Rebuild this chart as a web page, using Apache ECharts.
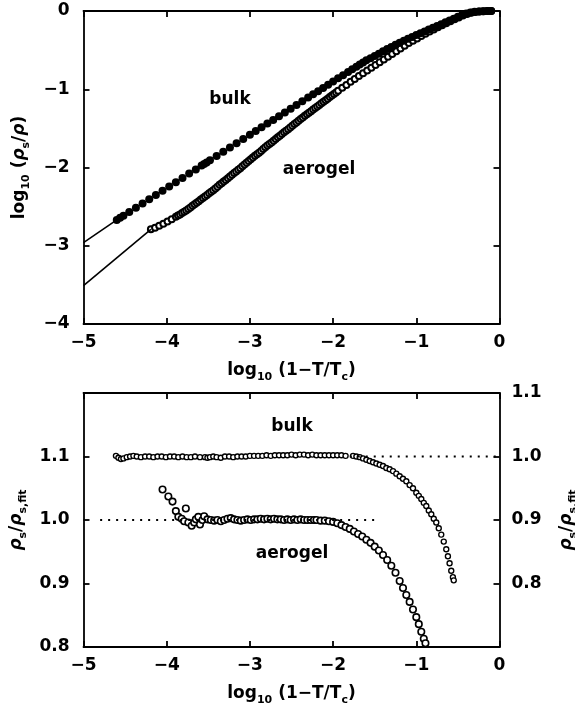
<!DOCTYPE html>
<html><head><meta charset="utf-8">
<script src="https://cdn.jsdelivr.net/npm/echarts@6/dist/echarts.min.js"></script>
<style>html,body{margin:0;padding:0;background:#fff}#c{width:575px;height:706px}</style>
</head><body><div id="c"></div>
<script>
// ---------- data ----------
// top panel: log10(rho_s/rho) vs log10(1-T/Tc)
const topBulk = [[-4.60,-2.670],[-4.56,-2.643],[-4.52,-2.616],[-4.45,-2.568],[-4.37,-2.514],[-4.29,-2.459],[-4.21,-2.405],[-4.13,-2.350],[-4.05,-2.296],[-3.97,-2.242],[-3.89,-2.187],[-3.81,-2.133],[-3.73,-2.078],[-3.65,-2.024],[-3.58,-1.976],[-3.55,-1.956],[-3.52,-1.936],[-3.48,-1.908],[-3.40,-1.854],[-3.32,-1.800],[-3.24,-1.745],[-3.16,-1.691],[-3.08,-1.636],[-3.00,-1.582],[-2.93,-1.534],[-2.86,-1.487],[-2.79,-1.439],[-2.72,-1.392],[-2.65,-1.344],[-2.58,-1.296],[-2.51,-1.249],[-2.44,-1.201],[-2.37,-1.154],[-2.30,-1.106],[-2.24,-1.065],[-2.18,-1.024],[-2.12,-0.984],[-2.06,-0.943],[-2.00,-0.902],[-1.94,-0.861],[-1.88,-0.820],[-1.82,-0.780],[-1.77,-0.746],[-1.72,-0.712],[-1.68,-0.684],[-1.64,-0.657],[-1.60,-0.630],[-1.55,-0.605],[-1.50,-0.575],[-1.45,-0.545],[-1.40,-0.515],[-1.35,-0.487],[-1.30,-0.459],[-1.25,-0.432],[-1.20,-0.405],[-1.15,-0.380],[-1.10,-0.355],[-1.05,-0.331],[-1.00,-0.308],[-0.95,-0.285],[-0.90,-0.262],[-0.85,-0.238],[-0.80,-0.214],[-0.75,-0.191],[-0.70,-0.168],[-0.65,-0.145],[-0.60,-0.122],[-0.55,-0.098],[-0.50,-0.072],[-0.45,-0.050],[-0.40,-0.032],[-0.35,-0.019],[-0.30,-0.010],[-0.25,-0.005],[-0.20,-0.002],[-0.15,0.000],[-0.10,0.000]];
const topAerogel = [[-4.19,-2.79],[-4.14,-2.77],[-4.09,-2.745],[-4.04,-2.72],[-3.99,-2.69],[-3.94,-2.66],
 [-3.89,-2.63],[-3.865,-2.615],[-3.84,-2.60],[-3.815,-2.583],[-3.79,-2.565],[-3.765,-2.548],[-3.74,-2.53],[-3.715,-2.51],[-3.69,-2.49],[-3.665,-2.47],[-3.64,-2.45],[-3.615,-2.43],[-3.59,-2.41],[-3.565,-2.39],[-3.54,-2.37],[-3.515,-2.35],[-3.49,-2.33],[-3.465,-2.31],[-3.44,-2.29],[-3.415,-2.268],[-3.39,-2.245],[-3.365,-2.222],[-3.34,-2.20],[-3.315,-2.18],[-3.29,-2.16],[-3.265,-2.138],[-3.24,-2.115],[-3.215,-2.092],[-3.19,-2.07],[-3.165,-2.05],[-3.14,-2.03],[-3.115,-2.008],[-3.09,-1.985],[-3.065,-1.962],[-3.04,-1.94],[-3.015,-1.918],[-2.99,-1.895],[-2.965,-1.872],[-2.94,-1.85],[-2.915,-1.83],[-2.89,-1.81],[-2.865,-1.788],[-2.84,-1.765],[-2.815,-1.742],[-2.79,-1.72],[-2.765,-1.70],[-2.74,-1.68],[-2.715,-1.658],[-2.69,-1.635],[-2.665,-1.615],[-2.64,-1.595],[-2.615,-1.572],[-2.59,-1.55],[-2.565,-1.53],[-2.54,-1.51],[-2.515,-1.488],[-2.49,-1.465],[-2.465,-1.445],[-2.44,-1.425],[-2.415,-1.402],[-2.39,-1.38],[-2.365,-1.36],[-2.34,-1.34],[-2.315,-1.32],[-2.29,-1.30],[-2.265,-1.28],[-2.24,-1.26],[-2.215,-1.24],[-2.19,-1.22],[-2.165,-1.20],[-2.14,-1.18],[-2.115,-1.16],[-2.09,-1.14],[-2.065,-1.12],[-2.04,-1.10],[-2.015,-1.08],[-1.99,-1.06],[-1.965,-1.04],[-1.94,-1.02],
 [-1.89,-0.98],[-1.84,-0.945],[-1.79,-0.905],[-1.74,-0.87],[-1.69,-0.83],[-1.64,-0.795],[-1.59,-0.76],[-1.54,-0.725],[-1.49,-0.69],[-1.44,-0.655],[-1.39,-0.62],[-1.34,-0.585],[-1.29,-0.55],[-1.24,-0.515],[-1.19,-0.48],[-1.14,-0.445],[-1.09,-0.41],[-1.04,-0.38],[-0.99,-0.35],[-0.94,-0.32],[-0.89,-0.29],[-0.84,-0.262],[-0.79,-0.235],[-0.74,-0.208],[-0.69,-0.182],[-0.64,-0.157],[-0.59,-0.132],[-0.54,-0.107],[-0.49,-0.082],[-0.44,-0.058],[-0.39,-0.038],[-0.34,-0.022],[-0.29,-0.012],[-0.24,-0.006],[-0.19,-0.002],[-0.14,0.0],[-0.10,0.0]];
const topBulkFit = [[-5,-2.96],[-4.60,-2.670]];
const topAerogelFit = [[-5,-3.51],[-4.19,-2.79]];

// bottom panel: rho_s / rho_s,fit  (bulk on right axis, aerogel on left axis)
const botBulk = [[-4.61,1.001],[-4.58,0.998],[-4.55,0.996],[-4.52,0.997],[-4.48,0.999],[-4.44,1.000],[-4.40,1.001],[-4.36,1.000],[-4.31,0.999],[-4.26,1.000],[-4.21,1.000],[-4.16,0.999],[-4.11,1.000],[-4.06,1.000],[-4.01,0.999],[-3.96,1.000],[-3.91,1.000],[-3.86,0.999],[-3.81,1.000],[-3.76,0.999],[-3.71,0.999],[-3.66,1.000],[-3.60,0.999],[-3.54,0.999],[-3.51,0.998],[-3.48,0.999],[-3.44,1.000],[-3.40,0.999],[-3.35,0.998],[-3.30,1.000],[-3.25,1.000],[-3.20,0.999],[-3.15,1.000],[-3.10,1.000],[-3.05,1.000],[-3.00,1.001],[-2.95,1.001],[-2.90,1.001],[-2.85,1.001],[-2.80,1.002],[-2.75,1.001],[-2.70,1.002],[-2.65,1.002],[-2.60,1.002],[-2.55,1.002],[-2.50,1.003],[-2.45,1.002],[-2.40,1.003],[-2.35,1.003],[-2.30,1.002],[-2.25,1.003],[-2.20,1.002],[-2.15,1.002],[-2.10,1.002],[-2.05,1.002],[-2.00,1.002],[-1.95,1.002],[-1.90,1.002],[-1.85,1.001],[-1.76,1.001],[-1.72,1.000],[-1.68,0.999],[-1.64,0.997],[-1.60,0.995],[-1.56,0.993],[-1.52,0.991],[-1.48,0.989],[-1.44,0.987],[-1.40,0.985],[-1.36,0.982],[-1.32,0.980],[-1.28,0.977],[-1.24,0.973],[-1.20,0.969],[-1.16,0.965],[-1.12,0.961],[-1.08,0.955],[-1.04,0.950],[-1.00,0.943],[-0.97,0.938],[-0.94,0.933],[-0.91,0.927],[-0.88,0.922],[-0.85,0.915],[-0.82,0.909],[-0.79,0.902],[-0.76,0.896],[-0.73,0.887],[-0.70,0.877],[-0.67,0.866],[-0.64,0.854],[-0.62,0.843],[-0.60,0.832],[-0.58,0.820],[-0.56,0.810],[-0.55,0.805]];
const botAerogel = [[-4.05,1.048],[-3.98,1.037],[-3.93,1.029],[-3.89,1.014],[-3.86,1.005],[-3.82,1.002],[-3.77,1.018],[-3.79,0.998],[-3.74,0.996],[-3.70,0.991],[-3.67,0.996],[-3.65,1.001],[-3.62,1.005],[-3.60,0.993],[-3.57,1.000],[-3.55,1.006],[-3.51,1.001],[-3.47,1.000],[-3.43,0.999],[-3.39,1.000],[-3.35,0.998],[-3.31,1.000],[-3.27,1.002],[-3.23,1.003],[-3.19,1.001],[-3.15,1.000],[-3.11,0.999],[-3.07,1.000],[-3.03,1.001],[-2.99,1.000],[-2.95,1.001],[-2.91,1.001],[-2.87,1.002],[-2.83,1.001],[-2.79,1.002],[-2.75,1.001],[-2.71,1.002],[-2.67,1.001],[-2.63,1.001],[-2.59,1.000],[-2.55,1.001],[-2.51,1.000],[-2.47,1.001],[-2.43,1.000],[-2.39,1.001],[-2.35,1.000],[-2.31,1.000],[-2.27,1.000],[-2.23,1.000],[-2.20,1.000],[-2.15,0.999],[-2.10,0.999],[-2.05,0.998],[-2.00,0.997],[-1.95,0.995],[-1.90,0.992],[-1.85,0.989],[-1.80,0.986],[-1.75,0.982],[-1.70,0.978],[-1.65,0.974],[-1.60,0.969],[-1.55,0.964],[-1.50,0.958],[-1.45,0.952],[-1.40,0.945],[-1.35,0.937],[-1.30,0.928],[-1.25,0.917],[-1.20,0.904],[-1.16,0.893],[-1.12,0.882],[-1.08,0.871],[-1.04,0.859],[-1.00,0.847],[-0.97,0.836],[-0.94,0.824],[-0.91,0.813],[-0.89,0.806]];
const botBulkRef = [[-1.80,1.0],[0,1.0]];
const botAerogelRef = [[-4.80,1.0],[-1.50,1.0]];

const xRange = [-5, 0];
const topYRange = [-4, 0];
const botLeftRange = [0.8, 1.2];
const botRightRange = [0.7, 1.1];

// ---------- styling ----------
const FONT = 'DejaVu Sans';
const K = '#000';
const FS = 17;
const rich = {
  a: {fontFamily: FONT, fontSize: FS, fontWeight: 'bold', color: K, lineHeight: 24},
  b: {fontFamily: FONT, fontSize: 11, fontWeight: 'bold', color: K, lineHeight: 12, verticalAlign: 'bottom'},
  r: {fontFamily: FONT, fontSize: FS, fontWeight: 'bold', fontStyle: 'italic', color: K, lineHeight: 24}
};
const xName = '{a|log}{b|10}{a| (1\u2212T/T}{b|c}{a|)}';
const minus = v => String(v).replace('-', '\u2212');
const line = {onZero: false, lineStyle: {color: K, width: 1.8}};
const tick = {inside: true, length: 6, lineStyle: {color: K, width: 1.8}};
const lab = (m, f) => ({color: K, fontFamily: FONT, fontSize: FS, fontWeight: 'bold', margin: m, formatter: f});

function xa(grid, pos, show) {
  return {type: 'value', gridIndex: grid, position: pos, min: xRange[0], max: xRange[1], interval: 1,
    axisLine: line, axisTick: tick, splitLine: {show: false},
    axisLabel: show ? lab(10, minus) : {show: false},
    name: show ? xName : '', nameLocation: 'middle', nameGap: 35, nameTextStyle: {rich: rich}};
}

const chart = echarts.init(document.getElementById('c'), null, {renderer: 'canvas'});
chart.setOption({
  animation: false,
  backgroundColor: '#fff',
  grid: [
    {left: 83.5, top: 11, width: 416, height: 313, containLabel: false, outerBoundsMode: 'none'},
    {left: 83.5, top: 393, width: 416, height: 254, containLabel: false, outerBoundsMode: 'none'}
  ],
  xAxis: [xa(0, 'bottom', true), xa(0, 'top', false), xa(1, 'bottom', true), xa(1, 'top', false)],
  yAxis: [
    {type: 'value', gridIndex: 0, position: 'left', min: topYRange[0], max: topYRange[1], interval: 1,
      axisLine: line, axisTick: tick, splitLine: {show: false}, axisLabel: lab(14, minus),
      name: '{a|log}{b|10}{a| (}{r|\u03c1}{b|s}{a|/}{r|\u03c1}{a|)}', nameLocation: 'middle', nameRotate: 90, nameGap: 52,
      nameTextStyle: {rich: rich}},
    {type: 'value', gridIndex: 0, position: 'right', min: topYRange[0], max: topYRange[1], interval: 1,
      axisLine: line, axisTick: tick, splitLine: {show: false}, axisLabel: {show: false}},
    {type: 'value', gridIndex: 1, position: 'left', min: botLeftRange[0], max: botLeftRange[1], interval: 0.1,
      axisLine: line, axisTick: tick, splitLine: {show: false},
      axisLabel: lab(14, v => Math.abs(v - botLeftRange[1]) < 1e-6 ? '' : v.toFixed(1)),
      name: '{r|\u03c1}{b|s}{a|/}{r|\u03c1}{b|s,fit}', nameLocation: 'middle', nameRotate: 90, nameGap: 55,
      nameTextStyle: {rich: rich}},
    {type: 'value', gridIndex: 1, position: 'right', min: botRightRange[0], max: botRightRange[1], interval: 0.1,
      axisLine: line, axisTick: tick, splitLine: {show: false},
      axisLabel: lab(12, v => Math.abs(v - botRightRange[0]) < 1e-6 ? '' : v.toFixed(1)),
      name: '{r|\u03c1}{b|s}{a|/}{r|\u03c1}{b|s,fit}', nameLocation: 'middle', nameRotate: 90, nameGap: 55,
      nameTextStyle: {rich: rich}}
  ],
  series: [
    {type: 'line', xAxisIndex: 0, yAxisIndex: 0, data: topBulkFit, symbol: 'none', lineStyle: {color: K, width: 1.6}},
    {type: 'line', xAxisIndex: 0, yAxisIndex: 0, data: topAerogelFit, symbol: 'none', lineStyle: {color: K, width: 1.6}},
    {type: 'scatter', xAxisIndex: 0, yAxisIndex: 0, data: topAerogel, symbol: 'circle', symbolSize: 6,
      itemStyle: {color: '#fff', borderColor: K, borderWidth: 2, opacity: 1}},
    {type: 'scatter', xAxisIndex: 0, yAxisIndex: 0, data: topBulk, symbol: 'circle', symbolSize: 8,
      itemStyle: {color: K, borderColor: K, borderWidth: 0, opacity: 1}},
    {type: 'line', xAxisIndex: 2, yAxisIndex: 3, data: botBulkRef, symbol: 'none', lineStyle: {color: K, width: 2, type: [2, 6]}},
    {type: 'line', xAxisIndex: 2, yAxisIndex: 2, data: botAerogelRef, symbol: 'none', lineStyle: {color: K, width: 2, type: [2, 6]}},
    {type: 'scatter', xAxisIndex: 2, yAxisIndex: 3, data: botBulk, symbol: 'circle', symbolSize: 5,
      itemStyle: {color: '#fff', borderColor: K, borderWidth: 1.4, opacity: 1}},
    {type: 'scatter', xAxisIndex: 2, yAxisIndex: 2, data: botAerogel, symbol: 'circle', symbolSize: 6.5,
      itemStyle: {color: '#fff', borderColor: K, borderWidth: 1.6, opacity: 1}}
  ],
  graphic: [
    {type: 'text', x: 230, y: 100, style: {text: 'bulk', font: 'bold 17px "DejaVu Sans"', fill: K, align: 'center', verticalAlign: 'middle'}},
    {type: 'text', x: 319, y: 170, style: {text: 'aerogel', font: 'bold 17px "DejaVu Sans"', fill: K, align: 'center', verticalAlign: 'middle'}},
    {type: 'text', x: 292, y: 427, style: {text: 'bulk', font: 'bold 17px "DejaVu Sans"', fill: K, align: 'center', verticalAlign: 'middle'}},
    {type: 'text', x: 292, y: 554, style: {text: 'aerogel', font: 'bold 17px "DejaVu Sans"', fill: K, align: 'center', verticalAlign: 'middle'}}
  ]
});
</script>
</body></html>
